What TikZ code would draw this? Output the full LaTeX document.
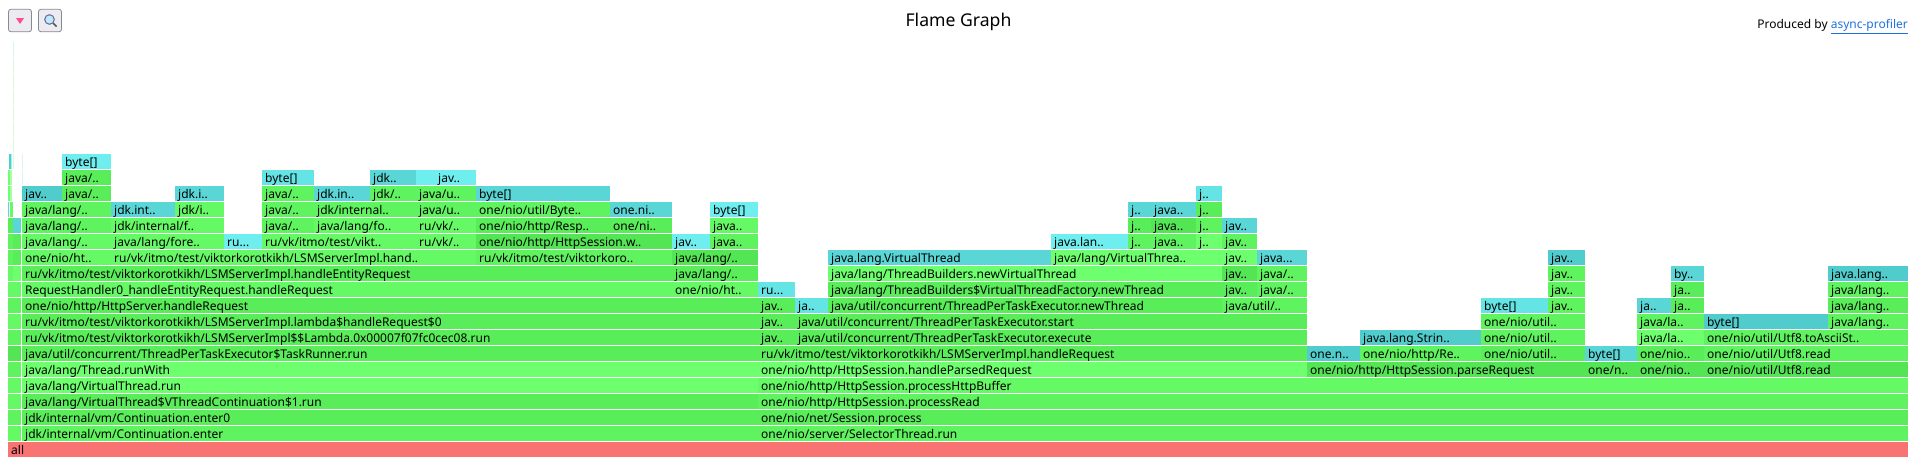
\documentclass[tikz,border=0pt]{standalone}
\usepackage{xcolor}
\usepackage{fontspec}
\setmainfont{Noto Sans}
\usepackage{tikz}
\usetikzlibrary{positioning, calc}
\definecolor{gA}{HTML}{6EFF6E}
\definecolor{gB}{HTML}{66F966}
\definecolor{gC}{HTML}{5FF35F}
\definecolor{gD}{HTML}{5AED5A}
\definecolor{gE}{HTML}{54E554}
\definecolor{gF}{HTML}{4EDF4E}
\definecolor{cA}{HTML}{6EEEEE}
\definecolor{cB}{HTML}{64E4E4}
\definecolor{cC}{HTML}{5AD6D6}
\definecolor{cD}{HTML}{50CCCC}
\definecolor{vall}{HTML}{F97373}
\definecolor{vpale}{HTML}{DDF9DD}
\definecolor{vpalec}{HTML}{D8F6F6}
\definecolor{vlink}{HTML}{1F6FE0}
\definecolor{vbtn}{HTML}{EBEBF0}
\definecolor{vbtnline}{HTML}{88889A}
\tikzset{
  bar/.style={rectangle, anchor=north west, inner xsep=3pt, inner ysep=0pt, minimum height=15pt,
              text height=11pt, text depth=2pt, align=left, text=black,
              font=\fontsize{12}{14}\selectfont},
  nilbar/.style={rectangle, anchor=north west, inner sep=0pt, minimum height=15pt},
  btn/.style={rectangle, rounded corners=2.5pt, draw=vbtnline, fill=vbtn, line width=0.8pt,
              minimum width=23pt, minimum height=22.5pt, inner sep=0pt}
}
% one frame: x from, x to, row, colour, label
\newcommand{\fgbar}[5]{%
  \pgfmathsetmacro{\fgw}{#2-#1-0.6}%
  \pgfmathsetmacro{\fgt}{#2-#1-6.6}%
  \node[bar, fill=#4, minimum width=\fgw pt, text width=\fgt pt] (f#3-#1) at (#1,{442-16*#3}) {\mbox{#5}};}
\newcommand{\fgnil}[4]{%
  \pgfmathsetmacro{\fgw}{#2-#1-0.3}%
  \node[nilbar, fill=#4, minimum width=\fgw pt] (f#3-#1) at (#1,{442-16*#3}) {};}
\begin{document}
\begin{tikzpicture}[x=1pt, y=-1pt]
  \useasboundingbox (0,0) rectangle (1916,463);
  \node[btn] (sortbtn) at (20,20.5) {};
  \node[btn] (findbtn) at (50,20.5) {};
  \fill[red!60!magenta!70] (16,18) -- (24,18) -- (20,24) -- cycle;
  \draw[blue!20!gray, line width=1pt, fill=cyan!25] (49.5,19.5) circle (4.8);
  \draw[black!65, line width=1.6pt] (53,23) -- (56.5,26.5);
  \node[font=\fontsize{17.6}{20}\selectfont, text=black] (title) at (958.5,22) {Flame Graph};
  \node[anchor=east, inner sep=0pt, font=\fontsize{12}{14}\selectfont, text=black] (prod) at (1908,26.3) {Produced by \textcolor{vlink}{\underline{async-profiler}}};

  \fgbar{8}{1908}{0}{vall}{all}

  % left stack
  \fgnil{8}{21.5}{1}{gB} \fgnil{8}{21.5}{2}{gC} \fgnil{8}{21.5}{3}{gB} \fgnil{8}{21.5}{4}{gB} \fgnil{8}{21.5}{5}{gC}
  \fgnil{8}{21.5}{6}{gE} \fgnil{8}{21.5}{7}{gC} \fgnil{8}{21.5}{8}{gB} \fgnil{8}{21.5}{9}{gC} \fgnil{8}{21.5}{10}{gB}
  \fgnil{8}{13}{11}{gB} \fgnil{13}{21.5}{11}{gA}
  \fgnil{8}{13}{12}{gC} \fgnil{13}{21.5}{12}{gD}
  \fgnil{8}{13}{13}{gC} \fgnil{13}{21.5}{13}{gD}
  \fgnil{8}{13}{14}{gD} \fgnil{13}{21.5}{14}{cC}
  \fgnil{8}{9.5}{15}{cC} \fgnil{9.5}{13}{15}{gB}
  \fgnil{8}{10}{16}{gA} \fgnil{10}{12}{16}{gA!60!white}
  \fgnil{8}{10}{17}{gA} \fgnil{10}{12}{17}{gA!60!white}
  \fgnil{8.5}{11}{18}{cD} \fgnil{11}{12.5}{18}{cA!70!white}
  \fgnil{12.8}{14}{18}{vpale} \fgnil{21.8}{22.8}{18}{vpalec} \fgnil{21.8}{22.8}{17}{vpalec}
  \fgnil{13}{14}{19}{vpale} \fgnil{13}{14}{20}{vpale} \fgnil{13}{14}{21}{vpale}
  \fgnil{13}{14}{22}{vpale} \fgnil{13}{14}{23}{vpale} \fgnil{13}{14}{24}{vpale} \fgnil{13}{14}{25}{vpalec}

  \fgbar{22}{758}{1}{gC}{jdk/internal/vm/Continuation.enter}
  \fgbar{22}{758}{2}{gD}{jdk/internal/vm/Continuation.enter0}
  \fgbar{22}{758}{3}{gD}{java/lang/VirtualThread\$VThreadContinuation\$1.run}
  \fgbar{22}{758}{4}{gA}{java/lang/VirtualThread.run}
  \fgbar{22}{758}{5}{gA}{java/lang/Thread.runWith}
  \fgbar{22}{758}{6}{gD}{java/util/concurrent/ThreadPerTaskExecutor\$TaskRunner.run}
  \fgbar{22}{758}{7}{gD}{ru/vk/itmo/test/viktorkorotkikh/LSMServerImpl\$\$Lambda.0x00007f07fc0cec08.run}
  \fgbar{22}{758}{8}{gD}{ru/vk/itmo/test/viktorkorotkikh/LSMServerImpl.lambda\$handleRequest\$0}
  \fgbar{22}{758}{9}{gD}{one/nio/http/HttpServer.handleRequest}
  \fgbar{22}{672}{10}{gB}{RequestHandler0\_handleEntityRequest.handleRequest}
  \fgbar{672}{758}{10}{gB}{one/nio/ht..}
  \fgbar{22}{672}{11}{gD}{ru/vk/itmo/test/viktorkorotkikh/LSMServerImpl.handleEntityRequest}
  \fgbar{672}{758}{11}{gD}{java/lang/..}
  \fgbar{22}{111}{12}{gB}{one/nio/ht..}
  \fgbar{111}{476}{12}{gB}{ru/vk/itmo/test/viktorkorotkikh/LSMServerImpl.hand..}
  \fgbar{476}{672}{12}{gC}{ru/vk/itmo/test/viktorkoro..}
  \fgbar{672}{758}{12}{gE}{java/lang/..}
  \fgbar{22}{111}{13}{gB}{java/lang/..}
  \fgbar{111}{224}{13}{gB}{java/lang/fore..}
  \fgbar{224}{262}{13}{cA}{ru...}
  \fgbar{262}{416}{13}{gB}{ru/vk/itmo/test/vikt..}
  \fgbar{416}{476}{13}{gB}{ru/vk/..}
  \fgbar{476}{672}{13}{gE}{one/nio/http/HttpSession.w..}
  \fgbar{672}{710}{13}{cA}{jav..}
  \fgbar{710}{758}{13}{gC}{java..}
  \fgbar{22}{111}{14}{gC}{java/lang/..}
  \fgbar{111}{224}{14}{gB}{jdk/internal/f..}
  \fgbar{262}{314}{14}{gC}{java/..}
  \fgbar{314}{416}{14}{gB}{java/lang/fo..}
  \fgbar{416}{476}{14}{gB}{ru/vk/..}
  \fgbar{476}{610}{14}{gD}{one/nio/http/Resp..}
  \fgbar{610}{672}{14}{gD}{one/ni..}
  \fgbar{710}{758}{14}{gB}{java..}
  \fgbar{22}{111}{15}{gC}{java/lang/..}
  \fgbar{111}{175}{15}{cC}{jdk.int..}
  \fgbar{175}{224}{15}{gB}{jdk/i..}
  \fgbar{262}{314}{15}{gC}{java/..}
  \fgbar{314}{416}{15}{gC}{jdk/internal..}
  \fgbar{416}{476}{15}{gC}{java/u..}
  \fgbar{476}{610}{15}{gC}{one/nio/util/Byte..}
  \fgbar{610}{672}{15}{cC}{one.ni..}
  \fgbar{710}{758}{15}{cA}{byte[]}
  \fgbar{22}{62}{16}{cD}{jav..}
  \fgbar{62}{111}{16}{gD}{java/..}
  \fgbar{175}{224}{16}{cC}{jdk.i..}
  \fgbar{262}{314}{16}{gC}{java/..}
  \fgbar{314}{370}{16}{cC}{jdk.in..}
  \fgbar{370}{416}{16}{gC}{jdk/..}
  \fgbar{416}{476}{16}{gC}{java/u..}
  \fgbar{476}{610}{16}{cC}{byte[]}
  \fgbar{62}{111}{17}{gD}{java/..}
  \fgbar{262}{314}{17}{cB}{byte[]}
  \fgbar{370}{416}{17}{cC}{jdk..}
  \fgnil{416}{435}{17}{cA}
  \fgbar{435}{476}{17}{cA}{jav..}
  \fgbar{62}{111}{18}{cA}{byte[]}

  % right stack
  \fgbar{758}{1908}{1}{gC}{one/nio/server/SelectorThread.run}
  \fgbar{758}{1908}{2}{gD}{one/nio/net/Session.process}
  \fgbar{758}{1908}{3}{gC}{one/nio/http/HttpSession.processRead}
  \fgbar{758}{1908}{4}{gB}{one/nio/http/HttpSession.processHttpBuffer}
  \fgbar{758}{1307}{5}{gA}{one/nio/http/HttpSession.handleParsedRequest}
  \fgbar{1307}{1585}{5}{gE}{one/nio/http/HttpSession.parseRequest}
  \fgbar{1585}{1637}{5}{gE}{one/n..}
  \fgbar{1637}{1704}{5}{gE}{one/nio..}
  \fgbar{1704}{1908}{5}{gE}{one/nio/util/Utf8.read}
  \fgbar{758}{1307}{6}{gD}{ru/vk/itmo/test/viktorkorotkikh/LSMServerImpl.handleRequest}
  \fgbar{1307}{1360}{6}{cD}{one.n..}
  \fgbar{1360}{1481}{6}{gC}{one/nio/http/Re..}
  \fgbar{1481}{1585}{6}{gD}{one/nio/util..}
  \fgbar{1585}{1637}{6}{cC}{byte[]}
  \fgbar{1637}{1704}{6}{gD}{one/nio..}
  \fgbar{1704}{1908}{6}{gC}{one/nio/util/Utf8.read}
  \fgbar{758}{795}{7}{gD}{jav..}
  \fgbar{795}{1307}{7}{gD}{java/util/concurrent/ThreadPerTaskExecutor.execute}
  \fgbar{1360}{1481}{7}{cD}{java.lang.Strin..}
  \fgbar{1481}{1585}{7}{gC}{one/nio/util..}
  \fgbar{1637}{1704}{7}{gA}{java/la..}
  \fgbar{1704}{1908}{7}{gC}{one/nio/util/Utf8.toAsciiSt..}
  \fgbar{758}{795}{8}{gD}{jav..}
  \fgbar{795}{1307}{8}{gD}{java/util/concurrent/ThreadPerTaskExecutor.start}
  \fgbar{1481}{1585}{8}{gC}{one/nio/util..}
  \fgbar{1637}{1704}{8}{gC}{java/la..}
  \fgbar{1704}{1828}{8}{cD}{byte[]}
  \fgbar{1828}{1908}{8}{gC}{java/lang..}
  \fgbar{758}{795}{9}{gD}{jav..}
  \fgbar{795}{828}{9}{cB}{ja..}
  \fgbar{828}{1222}{9}{gD}{java/util/concurrent/ThreadPerTaskExecutor.newThread}
  \fgbar{1222}{1307}{9}{gC}{java/util/..}
  \fgbar{1481}{1548}{9}{cB}{byte[]}
  \fgbar{1548}{1585}{9}{gC}{jav..}
  \fgbar{1637}{1671}{9}{cC}{ja..}
  \fgbar{1671}{1704}{9}{gD}{ja..}
  \fgbar{1828}{1908}{9}{gD}{java/lang..}
  \fgbar{758}{795}{10}{cB}{ru...}
  \fgbar{828}{1222}{10}{gD}{java/lang/ThreadBuilders\$VirtualThreadFactory.newThread}
  \fgbar{1222}{1257}{10}{gD}{jav..}
  \fgbar{1257}{1307}{10}{gC}{java/..}
  \fgbar{1548}{1585}{10}{gC}{jav..}
  \fgbar{1671}{1704}{10}{gD}{ja..}
  \fgbar{1828}{1908}{10}{gC}{java/lang..}
  \fgbar{828}{1222}{11}{gA}{java/lang/ThreadBuilders.newVirtualThread}
  \fgbar{1222}{1257}{11}{gE}{jav..}
  \fgbar{1257}{1307}{11}{gC}{java/..}
  \fgbar{1548}{1585}{11}{gC}{jav..}
  \fgbar{1671}{1704}{11}{cC}{by..}
  \fgbar{1828}{1908}{11}{cD}{java.lang..}
  \fgbar{828}{1051}{12}{cC}{java.lang.VirtualThread}
  \fgbar{1051}{1222}{12}{gA}{java/lang/VirtualThrea..}
  \fgbar{1222}{1257}{12}{gA}{jav..}
  \fgbar{1257}{1307}{12}{cC}{java...}
  \fgbar{1548}{1585}{12}{cD}{jav..}
  \fgbar{1051}{1128}{13}{cA}{java.lan..}
  \fgbar{1128}{1151}{13}{gC}{j..}
  \fgbar{1151}{1196}{13}{gC}{java..}
  \fgbar{1196}{1222}{13}{gA}{j..}
  \fgbar{1222}{1257}{13}{gC}{jav..}
  \fgbar{1128}{1151}{14}{gD}{j..}
  \fgbar{1151}{1196}{14}{gE}{java..}
  \fgbar{1196}{1222}{14}{gC}{j..}
  \fgbar{1222}{1257}{14}{cC}{jav..}
  \fgbar{1128}{1151}{15}{cC}{j..}
  \fgbar{1151}{1196}{15}{cC}{java..}
  \fgbar{1196}{1222}{15}{gD}{j..}
  \fgbar{1196}{1222}{16}{cB}{j..}
\end{tikzpicture}
\end{document}
